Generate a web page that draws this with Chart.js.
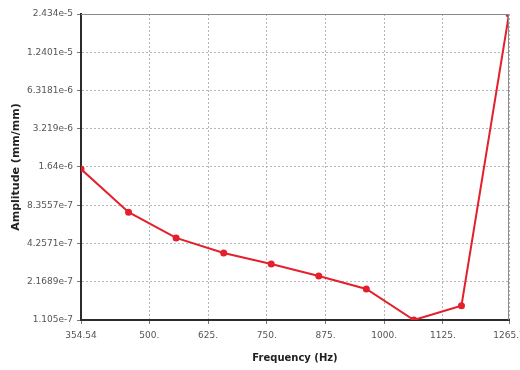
<!DOCTYPE html>
<html>
<head>
<meta charset="utf-8">
<script src="https://cdn.jsdelivr.net/npm/chart.js@4/dist/chart.umd.min.js"></script>
<style>
  html, body { margin: 0; padding: 0; background: #fff; }
  #wrap { width: 520px; height: 370px; }
</style>
</head>
<body>
<div id="wrap"><canvas id="grafico"></canvas></div>
<script>
var frecuencias = [354.54, 455.8, 557.0, 658.3, 759.5, 860.7, 962.0, 1063.2, 1164.5, 1265.7];
var amplitudes = [1.58e-6, 7.4e-7, 4.7e-7, 3.6e-7, 2.97e-7, 2.4e-7, 1.91e-7, 1.105e-7, 1.42e-7, 2.434e-5];
var ticksX = [354.54, 500, 625, 750, 875, 1000, 1125, 1265.7];
var etiquetasX = ["354.54", "500.", "625.", "750.", "875.", "1000.", "1125.", "1265.7"];
var ticksY = [1.105e-7, 2.1689e-7, 4.2571e-7, 8.3557e-7, 1.64e-6, 3.219e-6, 6.3181e-6, 1.2401e-5, 2.434e-5];
var etiquetasY = ["1.105e-7", "2.1689e-7", "4.2571e-7", "8.3557e-7", "1.64e-6", "3.219e-6", "6.3181e-6", "1.2401e-5", "2.434e-5"];

var puntos = frecuencias.map(function (f, i) { return { x: f, y: amplitudes[i] }; });

// marco gris arriba y a la derecha
var marco = {
  id: 'marco',
  afterDatasetsDraw: function (chart) {
    var a = chart.chartArea, c = chart.ctx;
    c.save();
    c.strokeStyle = '#8a8a8a';
    c.lineWidth = 1;
    c.beginPath();
    c.moveTo(a.left, a.top + 0.5);
    c.lineTo(a.right - 0.5, a.top + 0.5);
    c.lineTo(a.right - 0.5, a.bottom);
    c.stroke();
    c.restore();
  }
};

var ctx = document.getElementById("grafico");

var grafico = new Chart(ctx, {
  type: 'line',
  data: {
    datasets: [{
      data: puntos,
      borderColor: '#e3202b',
      backgroundColor: '#e3202b',
      borderWidth: 2,
      pointRadius: 3.5,
      pointBorderWidth: 0,
      tension: 0
    }]
  },
  plugins: [marco],
  options: {
    responsive: true,
    maintainAspectRatio: false,
    animation: false,
    layout: { padding: { top: 14, right: 11, bottom: 6, left: 10 } },
    plugins: { legend: { display: false }, tooltip: { enabled: false } },
    scales: {
      x: {
        type: 'linear',
        min: 354.54,
        max: 1265.7,
        afterBuildTicks: function (s) { s.ticks = ticksX.map(function (v) { return { value: v }; }); },
        afterFit: function (s) { s.height = 44; s.paddingRight = 0; s.paddingLeft = 0; },
        ticks: {
          autoSkip: false,
          maxRotation: 0,
          color: '#555',
          font: { family: 'DejaVu Sans', size: 9 },
          padding: 6,
          callback: function (v) { var i = ticksX.indexOf(v); return i >= 0 ? etiquetasX[i] : ''; }
        },
        grid: { color: '#b5b5b5', tickColor: '#777', tickLength: 4, drawOnChartArea: true },
        border: { display: true, color: '#2b2b2b', width: 2, dash: [2, 2] },
        title: { display: true, text: 'Frequency (Hz)', color: '#222', font: { family: 'DejaVu Sans', size: 10, weight: 'bold' }, padding: { top: 2, bottom: 0 } }
      },
      y: {
        type: 'logarithmic',
        min: 1.105e-7,
        max: 2.434e-5,
        afterBuildTicks: function (s) { s.ticks = ticksY.map(function (v) { return { value: v }; }); },
        afterFit: function (s) { s.width = 71; },
        ticks: {
          autoSkip: false,
          color: '#555',
          font: { family: 'DejaVu Sans', size: 9 },
          padding: 4,
          callback: function (v) { var i = ticksY.indexOf(v); return i >= 0 ? etiquetasY[i] : ''; }
        },
        grid: { color: '#b5b5b5', tickColor: '#777', tickLength: 4 },
        border: { display: true, color: '#2b2b2b', width: 2, dash: [2, 2] },
        title: { display: true, text: 'Amplitude (mm/mm)', color: '#222', font: { family: 'DejaVu Sans', size: 11, weight: 'bold' }, padding: { top: 0, bottom: 0 } }
      }
    }
  }
});
</script>
</body>
</html>
